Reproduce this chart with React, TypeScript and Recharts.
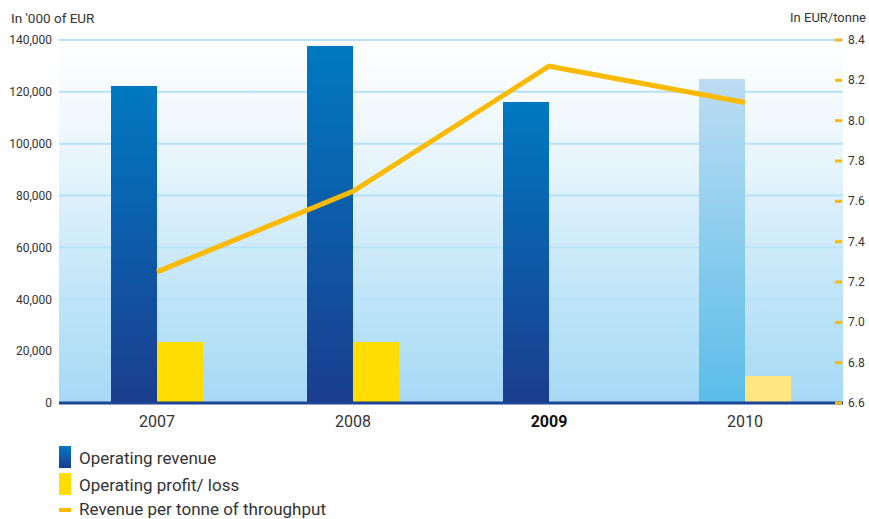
import React from "react";
import { ComposedChart, Bar, Line, XAxis, YAxis, CartesianGrid, Cell } from "recharts";

const years = ["2007", "2008", "2009", "2010"];
const operatingRevenue = [122300, 137700, 116100, 125000];
const operatingProfit: (number | null)[] = [23500, 23500, null, 10400];
const revenuePerTonne = [7.25, 7.65, 8.27, 8.09];
const leftTicks = [0, 20000, 40000, 60000, 80000, 100000, 120000, 140000];
const rightTicks = [6.6, 6.8, 7.0, 7.2, 7.4, 7.6, 7.8, 8.0, 8.2, 8.4];
const boldYear = "2009";
const forecastYear = "2010";

const data = years.map((y, i) => ({
  year: y,
  revenue: operatingRevenue[i],
  profit: operatingProfit[i],
  perTonne: revenuePerTonne[i],
}));

const FONT = "Roboto, 'DejaVu Sans', sans-serif";
const TEXT = "#333333";

const XTick = (props: any) => {
  const { x, y, payload } = props;
  const bold = payload.value === boldYear;
  return (
    <text x={x} y={y + 16} textAnchor="middle" fontFamily={FONT} fontSize={16}
      fontWeight={bold ? 700 : 400} fill={bold ? "#111" : TEXT}>
      {payload.value}
    </text>
  );
};

const RightTick = (props: any) => {
  const { x, y, payload } = props;
  return (
    <g>
      <line x1={x - 8} x2={x - 1} y1={y} y2={y} stroke="#fbb900" strokeWidth={3} />
      <text x={x + 5} y={y + 4} fontFamily={FONT} fontSize={12} fill={TEXT}>
        {Number(payload.value).toFixed(1)}
      </text>
    </g>
  );
};

export default function App() {
  return (
    <div style={{ position: "absolute", left: 0, top: 0, width: 869, height: 519, background: "#fff", fontFamily: FONT, overflow: "hidden" }}>
      <div style={{ position: "absolute", left: 11, top: 10, fontSize: 13.5, color: TEXT }}>In '000 of EUR</div>
      <div style={{ position: "absolute", right: 3, top: 10, fontSize: 13, color: TEXT }}>In EUR/tonne</div>
      <ComposedChart width={869} height={519} data={data}
        margin={{ top: 40, right: 0, bottom: 86, left: 0 }} barGap={0}>
        <defs>
          <linearGradient id="bgGrad" x1="0" y1="0" x2="0" y2="1">
            <stop offset="0%" stopColor="#ffffff" />
            <stop offset="35%" stopColor="#e6f4fc" />
            <stop offset="70%" stopColor="#c0e5f8" />
            <stop offset="100%" stopColor="#a6d9f5" />
          </linearGradient>
          <linearGradient id="revGrad" x1="0" y1="0" x2="0" y2="1">
            <stop offset="0%" stopColor="#0079c1" />
            <stop offset="100%" stopColor="#1b3d8f" />
          </linearGradient>
          <linearGradient id="revGradLight" x1="0" y1="0" x2="0" y2="1">
            <stop offset="0%" stopColor="#bcdcf3" />
            <stop offset="100%" stopColor="#5bbde9" />
          </linearGradient>
        </defs>
        <CartesianGrid vertical={false} yAxisId="left" stroke="#b7e1f7" strokeWidth={2} fill="url(#bgGrad)" />
        <XAxis dataKey="year" tick={<XTick />} tickLine={false} height={30}
          axisLine={{ stroke: "#1d4595", strokeWidth: 3 }} />
        <YAxis yAxisId="left" orientation="left" width={59} domain={[0, 140000]} ticks={leftTicks}
          axisLine={false} tickLine={false} tickMargin={1}
          tick={{ fontFamily: FONT, fontSize: 12, fill: TEXT }}
          tickFormatter={(v: number) => v.toLocaleString("en-US")} />
        <YAxis yAxisId="right" orientation="right" width={26} domain={[6.6, 8.4]} ticks={rightTicks}
          axisLine={false} tickLine={false} tickSize={0} tickMargin={0} tick={<RightTick />} />
        <Bar yAxisId="left" dataKey="revenue" barSize={46} isAnimationActive={false} fill="url(#revGrad)">
          {data.map((d) => (
            <Cell key={d.year} fill={d.year === forecastYear ? "url(#revGradLight)" : "url(#revGrad)"} />
          ))}
        </Bar>
        <Bar yAxisId="left" dataKey="profit" barSize={46} isAnimationActive={false} fill="#ffdd00">
          {data.map((d) => (
            <Cell key={d.year} fill={d.year === forecastYear ? "#ffe680" : "#ffdd00"} />
          ))}
        </Bar>
        <Line yAxisId="right" dataKey="perTonne" stroke="#fbb900" strokeWidth={5} dot={false}
          activeDot={false} isAnimationActive={false} type="linear" />
      </ComposedChart>
      <div style={{ position: "absolute", left: 59, top: 446, width: 12, height: 22, background: "linear-gradient(#0079c1, #1b3d8f)" }} />
      <div style={{ position: "absolute", left: 79, top: 448, fontSize: 17, color: TEXT, lineHeight: "20px" }}>Operating revenue</div>
      <div style={{ position: "absolute", left: 59, top: 473, width: 12, height: 22, background: "#ffdd00" }} />
      <div style={{ position: "absolute", left: 79, top: 475, fontSize: 17, color: TEXT, lineHeight: "20px" }}>Operating profit/ loss</div>
      <div style={{ position: "absolute", left: 59, top: 508, width: 12, height: 4, background: "#fbb900" }} />
      <div style={{ position: "absolute", left: 79, top: 499, fontSize: 17, color: TEXT, lineHeight: "20px" }}>Revenue per tonne of throughput</div>
    </div>
  );
}
